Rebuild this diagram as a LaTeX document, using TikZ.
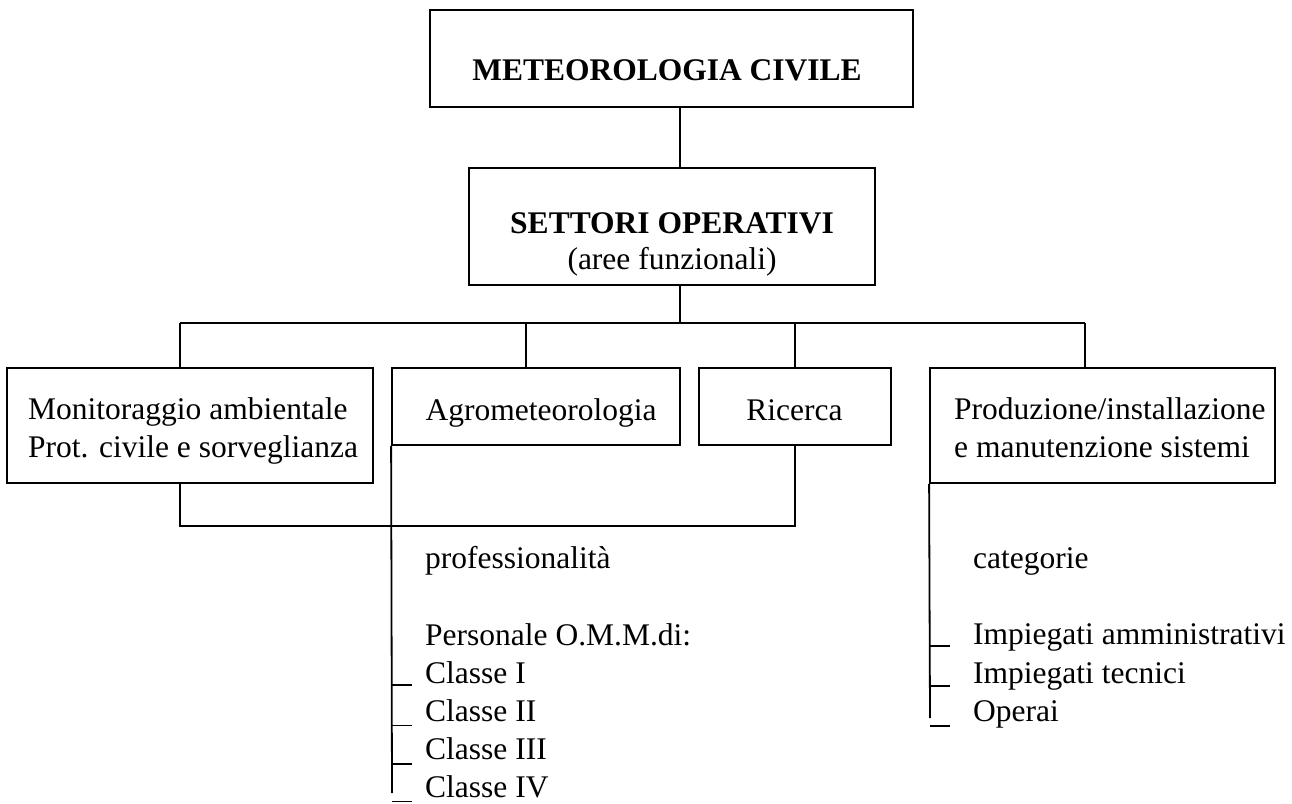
\documentclass[tikz,border=0pt]{standalone}
\usepackage{fontspec}
\setmainfont{Liberation Serif}
\begin{document}
\begin{tikzpicture}[x=1pt,y=-1pt,
  every node/.style={font=\fontsize{31.5}{38}\selectfont},
  ln/.style={line width=1.8pt},
  box/.style={draw,line width=1.8pt,inner sep=0pt},
  topbox/.style={draw,line width=2.8pt,inner sep=0pt},
  lbl/.style={anchor=base west,inner sep=0pt},
  clbl/.style={anchor=base,inner sep=0pt}]
\useasboundingbox (0,0) rectangle (1292,803);
% boxes
\node[topbox,minimum width=483pt,minimum height=97pt] (top) at (671.5,58.5) {};
\node[clbl] (topT) at (667,80) {\textbf{METEOROLOGIA CIVILE}};
\node[box,minimum width=406pt,minimum height=117pt] (set) at (672,226.5) {};
\node[clbl] (setT) at (672,233) {\textbf{SETTORI OPERATIVI}};
\node[clbl] (setS) at (672,269) {(aree funzionali)};
\node[box,minimum width=366pt,minimum height=115pt] (mon) at (190,425.5) {};
\node[lbl] (monA) at (28,419) {Monitoraggio ambientale};
\node[lbl] (monB) at (28,457) {Prot. civile e sorveglianza};
\node[box,minimum width=288pt,minimum height=77pt] (agro) at (536,406.5) {};
\node[clbl] (agroT) at (541,420) {Agrometeorologia};
\node[box,minimum width=192pt,minimum height=77pt] (ric) at (795,406.5) {};
\node[clbl] (ricT) at (794.5,420) {Ricerca};
\node[box,minimum width=345pt,minimum height=115pt] (prod) at (1102.5,425.5) {};
\node[lbl] (prodA) at (954,419) {Produzione/installazione};
\node[lbl] (prodB) at (954,457) {e manutenzione sistemi};
% hub coordinates
\coordinate (hub) at (680,323);
\coordinate (d1) at (180,323);
\coordinate (d2) at (526,323);
\coordinate (d3) at (795,323);
\coordinate (d4) at (1085,323);
\draw[ln] (top.south -| hub) -- (set.north -| hub);
\draw[ln] (set.south -| hub) -- (hub);
\draw[ln] (d1) -- (d4);
\draw[ln] (d1) -- (mon.north -| d1);
\draw[ln] (d2) -- (agro.north -| d2);
\draw[ln] (d3) -- (ric.north -| d3);
\draw[ln] (d4) -- (prod.north -| d4);
% lower join
\coordinate (j1) at (180,526);
\coordinate (j2) at (795,526);
\draw[ln] (mon.south -| j1) -- (j1) -- (j2) -- (ric.south -| j2);
% left list
\coordinate (lend) at (392,793);
\draw[ln] (agro.south west) -- (lend);
\node[lbl] (prof) at (425,568) {professionalità};
\node[lbl] (pers) at (425,645) {Personale O.M.M.di:};
\node[lbl] (c1) at (425,683) {Classe I};
\node[lbl] (c2) at (425,721.5) {Classe II};
\node[lbl] (c3) at (425,759.5) {Classe III};
\node[lbl] (c4) at (425,797) {Classe IV};
\coordinate (t1) at (392,685);
\coordinate (t2) at (392,725.5);
\coordinate (t3) at (392,764);
\coordinate (t4) at (392,801.5);
\foreach \t in {t1,t2,t3,t4} \draw[ln] (\t) -- ++(20,0);
% right list
\coordinate (rend) at (930,718);
\draw[ln] (prod.south west) -- (rend);
\node[lbl] (cat) at (973,568) {categorie};
\node[lbl] (i1) at (973,644) {Impiegati amministrativi};
\node[lbl] (i2) at (973,683) {Impiegati tecnici};
\node[lbl] (i3) at (973,721) {Operai};
\coordinate (r1) at (930,646);
\coordinate (r2) at (930,686);
\coordinate (r3) at (930,726);
\foreach \t in {r1,r2,r3} \draw[ln] (\t) -- ++(20,0);
\end{tikzpicture}
\end{document}
